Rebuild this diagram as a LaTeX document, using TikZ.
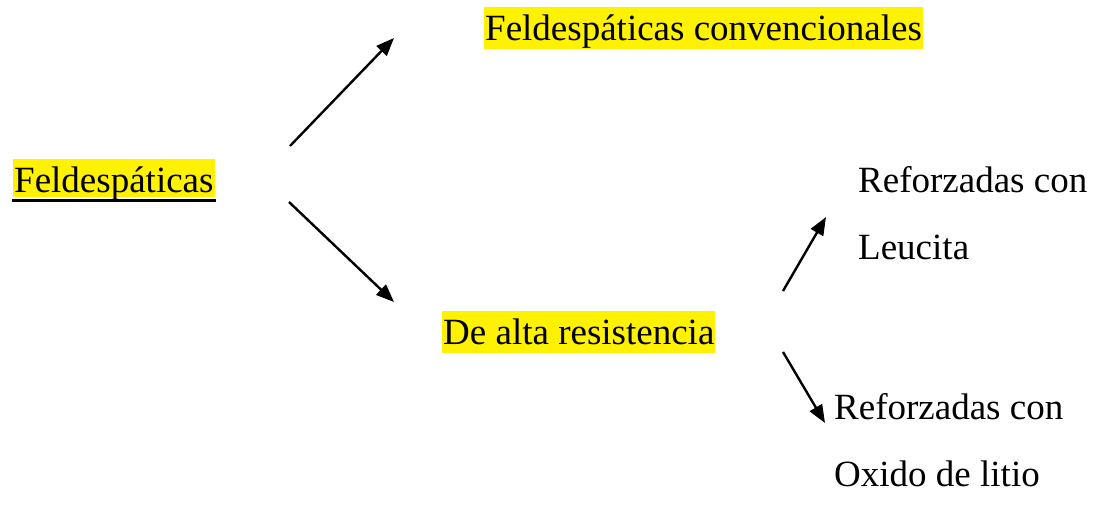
\documentclass[tikz,border=0pt]{standalone}
\usepackage{fontspec}
\setmainfont{Liberation Serif}
\usepackage{tikz}
\usepackage{xcolor}
\usetikzlibrary{arrows.meta, positioning}

\begin{document}
\begin{tikzpicture}[x=0.5pt, y=-0.5pt, line width=1.2pt, >={Triangle[length=9pt, width=7pt]},
  txt/.style={inner sep=0pt, anchor=base west, font=\fontsize{18.5}{33.5}\selectfont},
  marked/.style={txt, fill=yellow, text height=16.5pt, text depth=4.5pt, inner xsep=0.5pt}]

            \useasboundingbox (0,0) rectangle (1096,504);

            \node[marked, text depth=2.5pt] (feld) at (12,192) {Feldespáticas};
            \node[marked] (conv) at (483,40) {Feldespáticas convencionales};
            \node[marked] (alta) at (441,344) {De alta resistencia};
            % base of a two-line node is its last line
            \node[txt, align=left] (leuc) at (857,259) {Reforzadas con\\Leucita};
            \node[txt, align=left] (oxid) at (833,486) {Reforzadas con\\Oxido de litio};

            \draw[line width=1.2pt] ([yshift=-1.2pt]feld.south west) -- ([yshift=-1.2pt]feld.south east);

            \coordinate (feld-up) at (290,146);
            \coordinate (conv-in) at (394,38);
            \coordinate (feld-down) at (289,202);
            \coordinate (alta-in) at (394,302);
            \coordinate (alta-up) at (783,291);
            \coordinate (leuc-in) at (826,217);
            \coordinate (alta-down) at (783,352);
            \coordinate (oxid-in) at (825,423);

            \path[->]
            (feld-up) edge (conv-in)
            (feld-down) edge (alta-in)
            (alta-up) edge (leuc-in)
            (alta-down) edge (oxid-in);

        \end{tikzpicture}
\end{document}
